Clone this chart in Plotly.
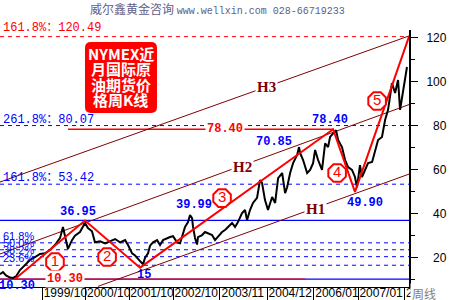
import plotly.graph_objects as go

# ---------------- data ----------------
price_dates = [
    "1998-10-13", "1998-11-07", "1998-12-02", "1999-01-05", "1999-01-30", "1999-02-24",
    "1999-03-30", "1999-05-11", "1999-06-22", "1999-08-03", "1999-09-14", "1999-10-26",
    "1999-12-07", "2000-01-18", "2000-03-01", "2000-03-25", "2000-04-19", "2000-05-06",
    "2000-06-09", "2000-07-04", "2000-08-15", "2000-09-26", "2000-10-21", "2000-11-24",
    "2000-12-19", "2001-01-31", "2001-03-14", "2001-04-25", "2001-06-06", "2001-07-18",
    "2001-08-29", "2001-09-23", "2001-10-27", "2001-11-21", "2001-12-16", "2002-01-10",
    "2002-01-27", "2002-02-13", "2002-03-10", "2002-03-27", "2002-04-21", "2002-05-25",
    "2002-06-19", "2002-07-14", "2002-08-17", "2002-09-11", "2002-10-06", "2002-11-09",
    "2002-12-04", "2002-12-21", "2003-01-15", "2003-02-09", "2003-02-26", "2003-03-15",
    "2003-03-23", "2003-04-09", "2003-04-26", "2003-05-04", "2003-06-07", "2003-07-02",
    "2003-07-27", "2003-08-30", "2003-09-24", "2003-10-19", "2003-11-22", "2003-12-17",
    "2004-01-11", "2004-02-14", "2004-03-10", "2004-04-04", "2004-05-08", "2004-06-02",
    "2004-06-19", "2004-07-14", "2004-08-08", "2004-09-11", "2004-10-06", "2004-10-23",
    "2004-11-17", "2004-12-12", "2005-01-16", "2005-02-10", "2005-03-07", "2005-04-10",
    "2005-05-05", "2005-05-22", "2005-06-16", "2005-07-11", "2005-08-14", "2005-08-30",
    "2005-09-08", "2005-10-03", "2005-11-06", "2005-12-01", "2005-12-26", "2006-01-12",
    "2006-02-06", "2006-03-11", "2006-04-06", "2006-05-01", "2006-05-18", "2006-06-12",
    "2006-07-07", "2006-07-24", "2006-08-26", "2006-09-21", "2006-10-16", "2006-11-18",
    "2006-12-13", "2006-12-30", "2007-01-24", "2007-02-10", "2007-03-08", "2007-04-02",
    "2007-05-06", "2007-05-31", "2007-06-25", "2007-07-28", "2007-08-23", "2007-09-17",
    "2007-10-20", "2007-11-15", "2007-12-10", "2007-12-27", "2008-01-12", "2008-02-07",
    "2008-02-23",
]
price_values = [
    12.5, 13.5, 12.0, 11.0, 10.8, 11.5,
    14.4, 16.7, 19.0, 20.3, 21.7, 22.0,
    23.5, 25.8, 29.0, 34.0, 27.0, 24.0,
    28.0, 30.0, 31.7, 35.8, 33.5, 32.0,
    27.0, 27.5, 26.5, 27.5, 28.5, 27.0,
    28.0, 25.8, 22.0, 21.0, 19.5, 18.0,
    17.0, 20.0, 22.0, 25.5, 27.0, 28.0,
    25.8, 28.0, 29.0, 29.4, 29.8, 27.0,
    26.6, 29.4, 34.0, 36.2, 39.4, 38.0,
    34.0, 29.0, 26.0, 29.4, 30.3, 31.7,
    31.2, 30.3, 28.0, 29.4, 31.7, 32.6,
    34.0, 35.8, 34.0, 36.2, 40.3, 41.7,
    37.1, 41.7, 44.9, 47.2, 55.3, 54.0,
    46.2, 41.7, 47.6, 44.9, 56.2, 58.5,
    49.4, 52.0, 58.5, 63.0, 66.7, 70.3,
    67.6, 64.4, 58.5, 59.9, 63.0, 69.0,
    64.4, 59.9, 72.0, 70.3, 74.9, 76.7,
    78.0, 73.5, 70.3, 64.4, 61.2, 59.9,
    56.7, 52.0, 62.1, 56.7, 59.9, 63.0,
    63.5, 69.0, 73.5, 74.9, 82.6, 87.2,
    99.4, 94.9, 100.8, 87.2, 92.6, 100.8,
    106.7,
]

# Elliott wave turning points
wave_dates = ["1999-02-16", "2000-09-26", "2002-01-02", "2006-06-12", "2006-12-13", "2008-03-11"]
wave_values = [10.30, 36.95, 15.5, 78.40, 49.90, 120.49]

# wave number badges
wave_num_dates = ["2000-01-18", "2001-03-31", "2003-11-22", "2006-07-16", "2007-06-17"]
wave_num_values = [18.0, 20.3, 47.1, 58.5, 91.2]
wave_nums = ["1", "2", "3", "4", "5"]

# channel lines H1..H3 (start / end)
channel_names = ["H1", "H2", "H3"]
channel_dates = [["2001-01-14", "2008-03-11"], ["1998-10-13", "2008-03-11"], ["1998-10-13", "2008-03-11"]]
channel_values = [[7.0, 58.0], [21.7, 89.6], [54.4, 120.8]]
channel_label_dates = ["2006-01-12", "2004-05-08", "2004-11-26"]
channel_label_values = [42.1, 61.2, 97.6]

# Fibonacci retracement of 10.30 -> 36.95
fib_levels = [26.77, 23.63, 20.48, 16.59]
fib_labels = ["61.8%", "50.0%", "38.2%", "23.6%"]

# extension targets
ext_levels = [120.49, 80.07, 53.42]
ext_labels = ["161.8%：120.49", "261.8%：80.07", "161.8%：53.42"]
ext_colors = ["#ff0000", "#0000ff", "#0000ff"]
ext_shift = [9, 6, 6]

low_level = 10.30
high_level = 36.95
red_low_span = ["1998-10-13", "2005-10-21"]
red_peak_span = ["2000-05-06", "2006-06-12"]
peak_level = 78.40

# value labels: text, date, value, xshift, yshift
value_labels = [
    ("36.95", "2000-09-26", 36.95, -7, 8),
    ("10.30", "1999-02-16", 10.30, 2, -7),
    ("15", "2002-01-02", 15.5, 4, -7),
    ("39.99", "2003-02-26", 39.99, 4, 9),
    ("70.85", "2005-08-30", 70.85, -25, 4),
    ("78.40", "2006-06-12", 78.40, -3, 9),
    ("49.90", "2006-12-13", 49.90, 10, -11),
]
red_labels = [("10.30", "2000-04-08", 10.30), ("78.40", "2003-12-13", 78.40)]

x_tick_dates = ["1999-10-04", "2000-10-02", "2001-10-01", "2002-10-07", "2003-11-03",
                "2004-12-06", "2006-01-02", "2007-01-08", "2008-02-04"]
x_tick_text = ["1999/10", "2000/10", "2001/10", "2002/10", "2003/11",
               "2004/12", "2006/01", "2007/01", "2008/02"]
y_ticks = [20, 40, 60, 80, 100, 120]
y_tick_text = ["\u200720", "\u200740", "\u200760", "\u200780", "100", "120"]

x_range = ["1998-10-13", "2008-03-11"]
y_range = [6.7, 123.5]

title_text = ('威尔鑫黄金咨询 <span style="font-family:Liberation Mono;font-size:10px">'
              'www.wellxin.com 028-66719233</span>')
box_lines = ["NYMEX近", "月国际原", "油期货价", "格周K线"]

# ---------------- figure ----------------
DARKRED = "#800000"
RED = "#ff0000"
BLUE = "#0000ff"
MONO = "Liberation Mono, Noto Sans CJK SC"

fig = go.Figure()

for d, v in zip(channel_dates, channel_values):
    fig.add_trace(go.Scatter(x=d, y=v, mode="lines", line=dict(color=DARKRED, width=1),
                             hoverinfo="skip"))

fig.add_trace(go.Scatter(x=price_dates, y=price_values, mode="lines",
                         line=dict(color="black", width=2)))

fig.add_trace(go.Scatter(x=wave_dates, y=wave_values, mode="lines",
                         line=dict(color=RED, width=2)))

fig.add_trace(go.Scatter(x=wave_num_dates, y=wave_num_values, mode="markers+text",
                         text=wave_nums, textposition="middle center",
                         textfont=dict(family="Liberation Sans", size=15, color=RED),
                         marker=dict(symbol="octagon", size=19, color="white",
                                     line=dict(color=RED, width=2)),
                         cliponaxis=False))

shapes = []
for lv, c in zip(ext_levels, ext_colors):
    shapes.append(dict(type="line", xref="paper", x0=0, x1=1, yref="y", y0=lv, y1=lv,
                       line=dict(color=c, width=1, dash="4px,4px"), layer="below"))
for lv in fib_levels:
    shapes.append(dict(type="line", xref="paper", x0=0, x1=1, yref="y", y0=lv, y1=lv,
                       line=dict(color=BLUE, width=1, dash="4px,4px"), layer="below"))
for lv in [high_level, low_level]:
    shapes.append(dict(type="line", xref="paper", x0=0, x1=1, yref="y", y0=lv, y1=lv,
                       line=dict(color=BLUE, width=1.3), layer="below"))
shapes.append(dict(type="line", xref="x", x0=red_low_span[0], x1=red_low_span[1], yref="y",
                   y0=low_level, y1=low_level, line=dict(color=RED, width=1.3), layer="below"))
shapes.append(dict(type="line", xref="x", x0=red_peak_span[0], x1=red_peak_span[1], yref="y",
                   y0=peak_level, y1=peak_level, line=dict(color=RED, width=1.3), layer="below"))

bx0, bx1, by0, by1 = 0.2078, 0.3839, 0.6770, 0.9533
rx, ry = 0.0147, 0.0233
path = (f"M {bx0+rx},{by1} L {bx1-rx},{by1} Q {bx1},{by1} {bx1},{by1-ry} "
        f"L {bx1},{by0+ry} Q {bx1},{by0} {bx1-rx},{by0} L {bx0+rx},{by0} "
        f"Q {bx0},{by0} {bx0},{by0+ry} L {bx0},{by1-ry} Q {bx0},{by1} {bx0+rx},{by1} Z")
shapes.append(dict(type="path", xref="paper", yref="paper", path=path,
                   fillcolor=RED, line=dict(width=0), layer="above"))

ann = []
for i, t in enumerate(box_lines):
    ann.append(dict(text=f"<b>{t}</b>", xref="paper", yref="paper", x=0.2958,
                    y=[0.9105, 0.8502, 0.7880, 0.7296][i], showarrow=False,
                    xanchor="center", yanchor="middle",
                    font=dict(family="Noto Sans CJK SC", size=15, color="white")))

for t, lv, c, s in zip(ext_labels, ext_levels, ext_colors, ext_shift):
    ann.append(dict(text=t, xref="paper", x=0.003, y=lv, yref="y", yshift=s,
                    xanchor="left", yanchor="middle", showarrow=False,
                    font=dict(family=MONO, size=12, color=c)))

for t, lv in zip(fib_labels, fib_levels):
    ann.append(dict(text=t, xref="paper", x=0.003, y=lv, yref="y", yshift=7,
                    xanchor="left", yanchor="middle", showarrow=False,
                    font=dict(family="Liberation Sans", size=11, color=BLUE)))

for t, d, v, xs, ys in value_labels:
    ann.append(dict(text=f"<b>{t}</b>", x=d, y=v, xref="x", yref="y", xshift=xs, yshift=ys,
                    showarrow=False, xanchor="center", yanchor="middle",
                    font=dict(family="Liberation Mono", size=12, color=BLUE)))

for t, d, v in red_labels:
    ann.append(dict(text=f"<b>{t}</b>", x=d, y=v, xref="x", yref="y", showarrow=False,
                    xanchor="center", yanchor="middle", bgcolor="white", borderpad=1,
                    font=dict(family="Liberation Mono", size=12, color=RED)))

for t, d, v in zip(channel_names, channel_label_dates, channel_label_values):
    ann.append(dict(text=f"<b>{t}</b>", x=d, y=v, xref="x", yref="y", showarrow=False,
                    xanchor="center", yanchor="middle", bgcolor="white", borderpad=1,
                    font=dict(family="Liberation Serif", size=15, color=DARKRED)))

ann.append(dict(text=title_text, xref="paper", yref="paper", x=0.533, y=1.0837,
                xanchor="center", yanchor="middle", showarrow=False,
                font=dict(family="Noto Sans CJK SC", size=12, color="#606088")))

ann.append(dict(text="周线", xref="paper", yref="paper", x=1.0, xshift=1, y=-0.0253,
                xanchor="left", yanchor="middle", showarrow=False, bgcolor="white",
                width=38, align="left",
                font=dict(family="Noto Sans CJK SC", size=12, color="#808080")))

fig.update_layout(
    width=450, height=300,
    margin=dict(l=0, r=41, t=30, b=13, autoexpand=False),
    paper_bgcolor="white", plot_bgcolor="white",
    showlegend=False,
    shapes=shapes, annotations=ann,
    xaxis=dict(type="date", range=x_range, tickvals=x_tick_dates, ticktext=x_tick_text,
               ticks="outside", ticklen=13, tickwidth=1, tickcolor="black",
               showline=True, linecolor="black", linewidth=1, showgrid=False,
               zeroline=False, ticklabelshift=23, ticklabelstandoff=-18,
               tickangle=0, automargin=False,
               tickfont=dict(family="Liberation Sans", size=12, color="black")),
    yaxis=dict(side="right", range=y_range, tickvals=y_ticks, ticktext=y_tick_text,
               ticks="outside", ticklen=7, tickwidth=1, tickcolor="black",
               showline=True, linecolor="black", linewidth=2, showgrid=False,
               zeroline=False, ticklabelstandoff=6, automargin=False,
               tickfont=dict(family="Liberation Sans", size=12, color="black"),
               minor=dict(dtick=10, tick0=0, ticks="outside", ticklen=4,
                          tickcolor="black", showgrid=False)),
)

fig.write_html("out.html")
